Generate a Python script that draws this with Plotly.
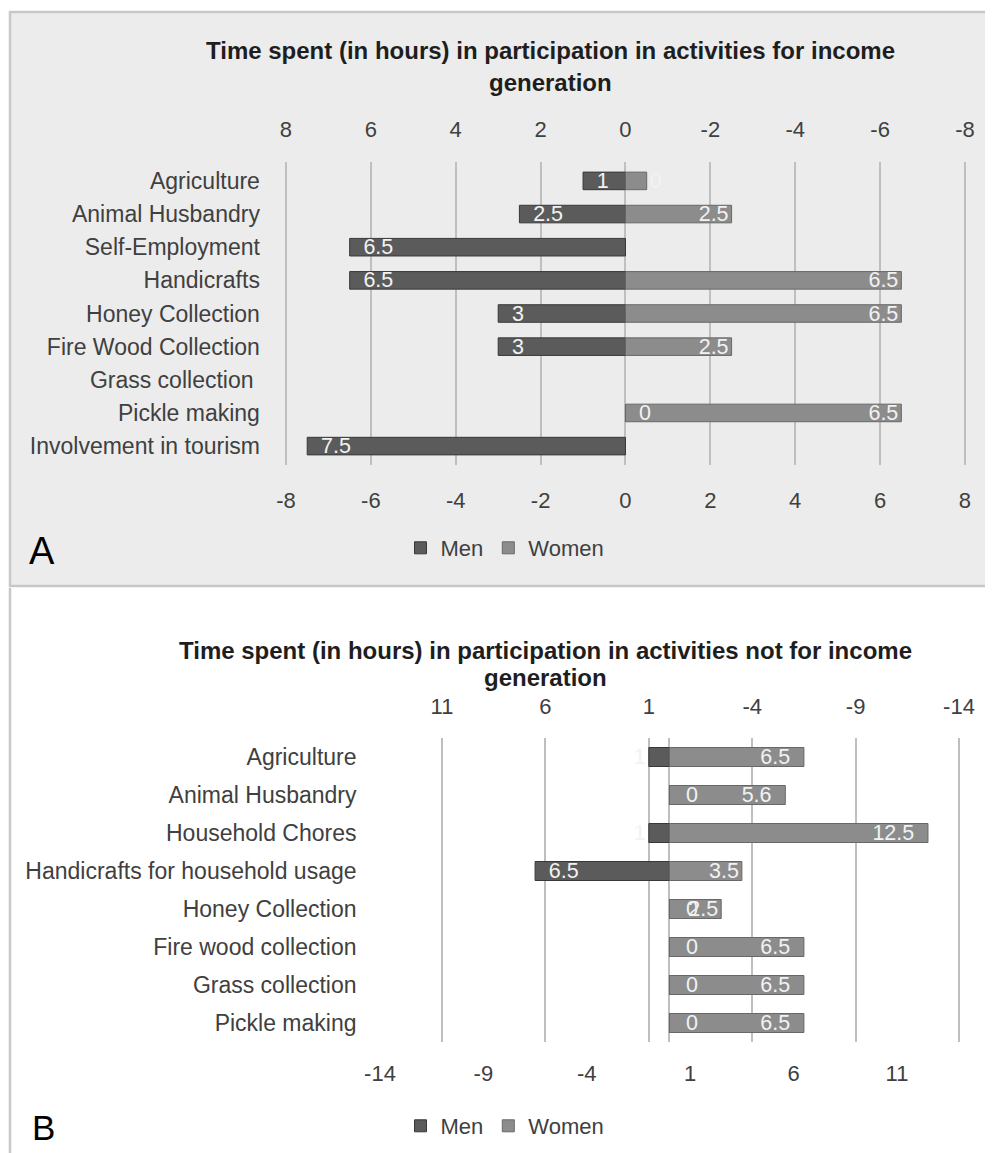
import plotly.graph_objects as go

W, H = 993, 1153
OFF = 8  # the page body adds an 8px margin; compensate so positions match

# ---------------- Data ----------------
# Panel A: activities for income generation
cats_a = ["Agriculture", "Animal Husbandry", "Self-Employment", "Handicrafts",
          "Honey Collection", "Fire Wood Collection", "Grass collection\u00a0",
          "Pickle making", "Involvement in tourism"]
men_a = [1, 2.5, 6.5, 6.5, 3, 3, None, 0, 7.5]
women_a = [0.5, 2.5, None, 6.5, 6.5, 2.5, None, 6.5, None]
ticks_a = [-8, -6, -4, -2, 0, 2, 4, 6, 8]

# Panel B: activities not for income generation
cats_b = ["Agriculture", "Animal Husbandry", "Household Chores",
          "Handicrafts for household usage", "Honey Collection",
          "Fire wood collection", "Grass collection", "Pickle making"]
men_b = [1, 0, 1, 6.5, 0, 0, 0, 0]
women_b = [6.5, 5.6, 12.5, 3.5, 2.5, 6.5, 6.5, 6.5]
ticks_b = [-14, -9, -4, 1, 6, 11]

title_a = ["Time spent (in hours) in participation in activities for income", "generation"]
title_b = ["Time spent (in hours) in participation in activities not for income", "generation"]

# ---------------- Styles ----------------
FONT = "Liberation Sans, Arial, sans-serif"
MEN_FILL, MEN_LINE = "#5b5b5b", "#383838"
WOM_FILL, WOM_LINE = "#8c8c8c", "#686868"
GRID = "#bfbfbf"
TXT = "#404040"
LBL = "rgb(242,242,242)"
SP = "\u2002"


def fmt(v):
    return "" if v is None else ("%g" % v)


def neg(vals):
    return [None if v is None else -v for v in vals]


def px(p):
    return (p - OFF) / W


def py(p):
    return 1 - (p - OFF) / H


def domain(lo_px, hi_px, lo, hi, pad):
    # pixel positions of lo/hi values; widen range by pad units so edge gridlines show
    ppu = (hi_px - lo_px) / (hi - lo)
    return [px(lo_px - pad * ppu), px(hi_px + pad * ppu)]


PAD = 0.12
RA = (-8, 8)
RB = (-14, 14)

fig = go.Figure()

common = dict(orientation="h", textangle=0, constraintext="none",
              insidetextanchor="end", cliponaxis=False,
              textfont=dict(family=FONT, size=21.5, color=LBL))

# Panel A traces
fig.add_trace(go.Bar(y=cats_a, x=neg(men_a), name="Men", xaxis="x", yaxis="y",
                     width=0.53, legend="legend",
                     text=[SP + fmt(v) if v else "" for v in men_a],
                     textposition="inside",
                     marker=dict(color=MEN_FILL, line=dict(color=MEN_LINE, width=1)),
                     **common))
fig.add_trace(go.Bar(y=cats_a, x=women_a, name="Women", xaxis="x", yaxis="y",
                     width=0.53, legend="legend",
                     text=[("0" if (v is not None and v < 1) else fmt(v)) for v in women_a],
                     textposition=["outside" if (v is not None and v < 1) else "inside" for v in women_a],
                     marker=dict(color=WOM_FILL, line=dict(color=WOM_LINE, width=1)),
                     **common))

# Panel B traces
fig.add_trace(go.Bar(y=cats_b, x=neg(men_b), name="Men", xaxis="x3", yaxis="y2",
                     width=0.5, legend="legend2",
                     text=[SP + fmt(v) if v else "" for v in men_b],
                     textposition=["outside" if (v is not None and v <= 1) else "inside" for v in men_b],
                     marker=dict(color=MEN_FILL, line=dict(color=MEN_LINE, width=1)),
                     **common))
fig.add_trace(go.Bar(y=cats_b, x=women_b, name="Women", xaxis="x3", yaxis="y2",
                     width=0.5, legend="legend2",
                     text=[fmt(v) + (SP if v > 5 else "") for v in women_b], textposition="inside",
                     marker=dict(color=WOM_FILL, line=dict(color=WOM_LINE, width=1)),
                     **common))

# invisible carriers so the mirrored (top) axes get drawn
fig.add_trace(go.Scatter(y=cats_a, x=men_a, xaxis="x2", yaxis="y", mode="markers",
                         marker=dict(opacity=0), showlegend=False, hoverinfo="skip"))
fig.add_trace(go.Scatter(y=cats_b, x=men_b, xaxis="x4", yaxis="y2", mode="markers",
                         marker=dict(opacity=0), showlegend=False, hoverinfo="skip"))

tickfont = dict(family=FONT, size=22, color=TXT)
catfont = dict(family=FONT, size=23, color=TXT)

annotations = []
# zero-value labels for men (Excel places them just right of the axis)
for cats, men, xr, yr, sh in [(cats_a, men_a, "x", "y", 20), (cats_b, men_b, "x3", "y2", 23)]:
    for c, v in zip(cats, men):
        if v == 0:
            annotations.append(dict(x=0, y=c, xref=xr, yref=yr, text="0", showarrow=False,
                                    xanchor="center", xshift=sh,
                                    font=dict(family=FONT, size=21.5, color=LBL)))

for txt, x, y in [(title_a[0], 550, 50), (title_a[1], 550, 83),
                  (title_b[0], 545, 650), (title_b[1], 545, 677)]:
    annotations.append(dict(x=px(x), y=py(y), xref="paper", yref="paper", text="<b>%s</b>" % txt,
                            showarrow=False, xanchor="center", yanchor="middle",
                            font=dict(family=FONT, size=24, color="#1e1e1e")))
annotations.append(dict(x=px(42), y=py(551), xref="paper", yref="paper", text="A", showarrow=False,
                        xanchor="center", yanchor="middle", font=dict(family=FONT, size=38, color="#000")))
annotations.append(dict(x=px(43), y=py(1127), xref="paper", yref="paper", text="B", showarrow=False,
                        xanchor="center", yanchor="middle", font=dict(family=FONT, size=35, color="#000")))

shapes = [
    dict(type="rect", xref="paper", yref="paper", x0=px(10), x1=1.05, y0=py(586), y1=py(12),
         fillcolor="#ececec", line=dict(color="#c8c8c8", width=2.5), layer="below"),
    dict(type="line", xref="paper", yref="paper", x0=px(10), x1=px(10), y0=-0.05, y1=py(588),
         line=dict(color="#c8c8c8", width=2.5), layer="below"),
]

legend_common = dict(orientation="h", xanchor="center", yanchor="middle",
                     font=dict(family=FONT, size=22, color=TXT), bgcolor="rgba(0,0,0,0)",
                     itemclick=False, itemdoubleclick=False)

ax_common = dict(automargin=False, fixedrange=True, showline=False, ticks="", tickfont=tickfont)

fig.update_layout(
    width=W, height=H, autosize=False,
    margin=dict(l=0, r=0, t=0, b=0, pad=0, autoexpand=False),
    paper_bgcolor="white", plot_bgcolor="rgba(0,0,0,0)",
    barmode="relative",
    font=dict(family=FONT, color=TXT),
    xaxis=dict(domain=domain(286, 965, RA[0], RA[1], PAD), anchor="y",
               range=[RA[0] - PAD, RA[1] + PAD],
               tickvals=ticks_a, ticktext=[str(t) for t in ticks_a],
               showgrid=True, gridcolor=GRID, gridwidth=1.6, ticklabelstandoff=20,
               zeroline=True, zerolinecolor=GRID, zerolinewidth=1.6, **ax_common),
    xaxis2=dict(overlaying="x", side="top", anchor="y", range=[RA[1] + PAD, RA[0] - PAD],
                tickvals=ticks_a, ticktext=[str(t) for t in ticks_a], ticklabelstandoff=20,
                showgrid=False, zeroline=False, **ax_common),
    yaxis=dict(domain=[py(465), py(162)], anchor="x", type="category",
               categoryorder="array", categoryarray=cats_a, autorange="reversed",
               showgrid=False, zeroline=False, showline=False, ticks="", automargin=False,
               tickfont=catfont, ticklabelstandoff=20, fixedrange=True),
    xaxis3=dict(domain=domain(380, 959, RB[0], RB[1], PAD), anchor="y2",
                range=[RB[0] - PAD, RB[1] + PAD],
                tickvals=ticks_b, ticktext=[str(t) for t in ticks_b], ticklabelstandoff=16,
                showgrid=False, zeroline=True, zerolinecolor=GRID, zerolinewidth=1.6, **ax_common),
    xaxis4=dict(overlaying="x3", side="top", anchor="y2", range=[RB[1] + PAD, RB[0] - PAD],
                tickvals=ticks_b, ticktext=[str(t) for t in ticks_b], ticklabelstandoff=19,
                showgrid=True, gridcolor=GRID, gridwidth=1.6, zeroline=False, **ax_common),
    yaxis2=dict(domain=[py(1042), py(738)], anchor="x3", type="category",
                categoryorder="array", categoryarray=cats_b, autorange="reversed",
                showgrid=False, zeroline=False, showline=False, ticks="", automargin=False,
                tickfont=catfont, ticklabelstandoff=20, fixedrange=True),
    legend=dict(x=px(505), y=py(548), **legend_common),
    legend2=dict(x=px(505), y=py(1126), **legend_common),
    annotations=annotations,
    shapes=shapes,
)

fig.write_html("out.html")
